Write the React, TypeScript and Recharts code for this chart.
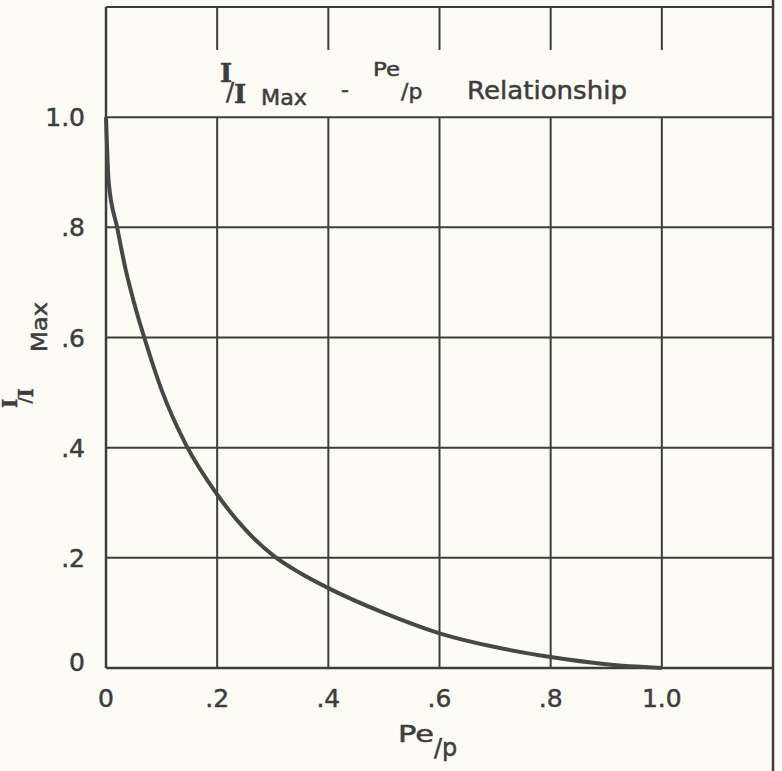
import React from 'react';
import { LineChart, Line, XAxis, YAxis, ReferenceLine, Customized } from 'recharts';

// Pe/P values along the curve and the matching I/I Max readings
const peValues = [0, 0.005, 0.02, 0.035, 0.05, 0.075, 0.1, 0.144, 0.2, 0.25, 0.3, 0.35, 0.4, 0.5, 0.6, 0.7, 0.8, 0.9, 1.0];
const ratioValues = [1.0, 0.88, 0.8, 0.725, 0.665, 0.58, 0.505, 0.405, 0.315, 0.252, 0.205, 0.172, 0.145, 0.1, 0.063, 0.038, 0.02, 0.007, 0];

const xTicks = [0, 0.2, 0.4, 0.6, 0.8, 1.0];
const xTickLabels = ['0', '.2', '.4', '.6', '.8', '1.0'];
const yTicks = [0, 0.2, 0.4, 0.6, 0.8, 1.0];
const yTickLabels = ['0', '.2', '.4', '.6', '.8', '1.0'];
const gridLines = [0.2, 0.4, 0.6, 0.8, 1.0];

const curveData = peValues.map((pe, i) => ({ pe, ratio: ratioValues[i] }));

const INK = '#3d3d3d';
const FONT = 'DejaVu Sans';

const XTick = (props: any) => {
  const i = xTicks.indexOf(props.payload.value);
  return (
    <text x={props.x} y={707} textAnchor="middle" fontSize={25} fontFamily={FONT} fill={INK} stroke={INK} strokeWidth={0.5}>
      {xTickLabels[i]}
    </text>
  );
};

const YTick = (props: any) => {
  const i = yTicks.indexOf(props.payload.value);
  const dy = props.payload.value === 0 ? 3 : 9;
  return (
    <text x={85} y={props.y + dy} textAnchor="end" fontSize={25} fontFamily={FONT} fill={INK} stroke={INK} strokeWidth={0.5}>
      {yTickLabels[i]}
    </text>
  );
};

// the "I over I" fraction used in the title and y label, one text with shifted pieces
const FracI = ({ x, y, s = 1 }: { x: number; y: number; s?: number }) => (
  <text fill={INK} fontFamily="DejaVu Serif" fontWeight="bold" fontSize={26 * s}>
    <tspan x={x} y={y - 21 * s}>I</tspan>
    <tspan x={x + 6 * s} y={y - 3 * s} fontSize={24 * s} fontFamily={FONT} fontWeight="normal">/</tspan>
    <tspan x={x + 14 * s} y={y}>I</tspan>
  </text>
);

const Labels = () => (
  <g fill={INK} fontFamily={FONT} stroke={INK} strokeWidth={0.5}>
    {/* title */}
    <FracI x={220} y={103} />
    <text x={261} y={105} fontSize={21} textLength={46} lengthAdjust="spacingAndGlyphs">Max</text>
    <text x={341} y={97} fontSize={22}>-</text>
    <text x={373} y={76} fontSize={20} textLength={27} lengthAdjust="spacingAndGlyphs">Pe</text>
    <text x={401} y={99} fontSize={22}>/p</text>
    <text x={467} y={99} fontSize={25} textLength={160} lengthAdjust="spacingAndGlyphs">Relationship</text>

    {/* x label */}
    <text x={398} y={742} fontSize={23} textLength={36} lengthAdjust="spacingAndGlyphs">Pe</text>
    <text x={434} y={756} fontSize={24}>/p</text>

    {/* y label, reads bottom to top */}
    <g transform="translate(20, 408) rotate(-90)">
      <FracI x={0} y={13} s={0.75} />
      <text x={56} y={27} fontSize={21} textLength={50} lengthAdjust="spacingAndGlyphs">Max</text>
    </g>
  </g>
);

const App = () => {
  return (
    <div style={{ position: 'absolute', left: 0, top: 0, width: 782, height: 771, background: '#fcfcf4' }}>
      <LineChart width={782} height={771} data={curveData} margin={{ top: 7, right: 9, bottom: 0, left: 0 }}>
        <XAxis
          dataKey="pe"
          type="number"
          domain={[0, 1.2]}
          ticks={xTicks}
          interval={0}
          height={103}
          axisLine={false}
          tickLine={false}
          tick={(p: any) => <XTick {...p} />}
        />
        <YAxis
          type="number"
          domain={[0, 1.2]}
          ticks={yTicks}
          interval={0}
          width={106}
          axisLine={false}
          tickLine={false}
          tick={(p: any) => <YTick {...p} />}
        />

        {/* horizontal grid, full width */}
        {gridLines.map((v) => (
          <ReferenceLine key={'h' + v} y={v} stroke={INK} strokeWidth={2} />
        ))}
        {/* vertical grid stops at 1.0, only short ticks hang from the top border */}
        {gridLines.map((v) => (
          <ReferenceLine key={'v' + v} segment={[{ x: v, y: 0 }, { x: v, y: 1.0 }]} stroke={INK} strokeWidth={2} />
        ))}
        {gridLines.map((v) => (
          <ReferenceLine key={'t' + v} segment={[{ x: v, y: 1.2 }, { x: v, y: 1.122 }]} stroke={INK} strokeWidth={2} />
        ))}

        {/* frame */}
        <ReferenceLine x={0} stroke={INK} strokeWidth={2.5} />
        <ReferenceLine y={0} stroke={INK} strokeWidth={2.5} />
        <ReferenceLine y={1.2} stroke={INK} strokeWidth={2} />
        <ReferenceLine
          segment={[{ x: 1.2, y: -0.19 }, { x: 1.2, y: 1.22 }]}
          ifOverflow="visible"
          stroke={INK}
          strokeWidth={2.5}
        />

        <Line
          dataKey="ratio"
          type="monotone"
          stroke="#474747"
          strokeWidth={4}
          dot={false}
          isAnimationActive={false}
        />
        <Customized component={Labels} />
      </LineChart>
    </div>
  );
};

export default App;
